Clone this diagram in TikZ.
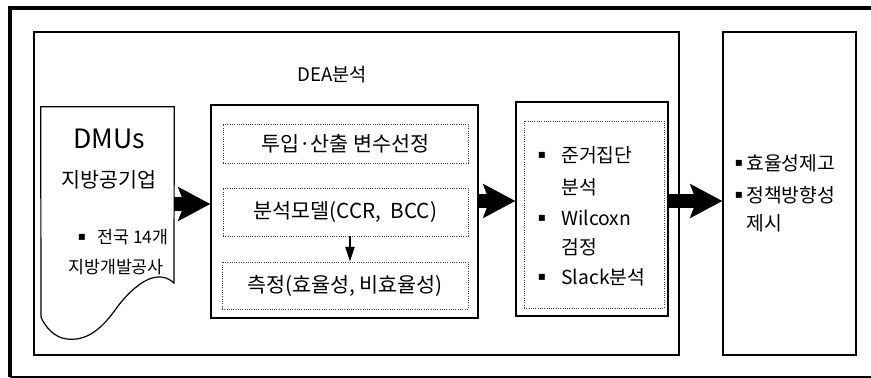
\documentclass[tikz,border=0pt]{standalone}
\usepackage{fontspec}
\setmainfont{Noto Sans CJK KR}
\newfontfamily\symfont{DejaVu Sans}
\usetikzlibrary{arrows.meta,fit}
\begin{document}
\begin{tikzpicture}[x=0.75pt,y=-0.75pt,
  box/.style={draw=black, line width=0.9pt, inner sep=0pt, fill=white},
  dotbox/.style={draw=black!75, densely dotted, line width=0.7pt, inner sep=0pt},
  fat/.style={line width=11pt, -{Stealth[length=24pt, width=25pt, inset=4.5pt]}},
  lbl/.style={inner sep=0pt},
  big/.style={lbl, font=\fontsize{20pt}{24pt}\selectfont},
  mid/.style={lbl, font=\fontsize{15.5pt}{18pt}\selectfont},
  med/.style={lbl, font=\fontsize{14.5pt}{17pt}\selectfont},
  sml/.style={lbl, font=\fontsize{13pt}{15pt}\selectfont},
  bul/.style={lbl, font=\symfont\fontsize{9pt}{10pt}\selectfont},
]
\useasboundingbox (0,0) rectangle (871,378);
% outer frame
\draw[line width=3pt] (10,377) -- (10,8) -- (880,8);
\draw[line width=1.1pt] (10,377) -- (880,377);
% main boxes
\node[box, fit={(34,32) (679,355)}] (dea) {};
\node[box, fit={(723,32) (856,355)}] (out) {};
\node[lbl, font=\fontsize{14pt}{17pt}\selectfont] (deat) at (332,75) {DEA분석};
% document shape
\node[lbl, fit={(41,107) (174,301)}] (doc) {};
\draw[line width=0.9pt, fill=white] (doc.north west) -- (doc.north east) -- (174,283)
  .. controls (160,270) and (140,278) .. (118,306)
  .. controls (100,332) and (85,341) .. (67,339)
  .. controls (55,338) and (45,327) .. (41,317) -- cycle;
\node[big] (dmu) at (109,139) {DMUs};
\node[mid] (lpe) at (109,180) {지방공기업};
\node[bul] (db) at (82,237) {▪};
\node[sml, anchor=west] (d1) at (97,237) {전국 14개};
\node[sml] (d2) at (116,267) {지방개발공사};
% DEA middle box
\node[box, fit={(211,105) (478,318)}] (midbox) {};
\node[dotbox, fit={(223,124) (468,163)}, label={[mid]center:투입·산출 변수선정}] (m1) {};
\node[dotbox, fit={(223,188) (468,236)}, label={[mid]center:분석모델(CCR,\ \ BCC)}] (m2) {};
\node[dotbox, fit={(222,262) (468,309)}, label={[mid]center:측정(효율성,\ 비효율성)}] (m3) {};
\coordinate (sx) at (350,0);
\draw[line width=0.8pt, -{Triangle[length=11pt, width=7pt]}] (m2.south -| sx) -- (m3.north -| sx);
% result box
\node[box, fit={(516,102) (668,316)}] (res) {};
\node[dotbox, fit={(524,121) (664,308)}] (resin) {};
\node[bul] (rb1) at (542,155) {▪};
\node[med, anchor=west] (r1) at (561,155) {준거집단};
\node[med, anchor=west] (r2) at (561,187) {분석};
\node[bul] (rb2) at (542,218) {▪};
\node[med, anchor=west] (r3) at (561,218) {Wilcoxn};
\node[med, anchor=west] (r4) at (561,247) {검정};
\node[bul] (rb3) at (542,277) {▪};
\node[med, anchor=west] (r5) at (561,277) {Slack분석};
% output box
\node[bul] (ob1) at (739,163) {▪};
\node[med, anchor=west] (o1) at (746,163) {효율성제고};
\node[bul] (ob2) at (739,195) {▪};
\node[med, anchor=west] (o2) at (746,195) {정책방향성};
\node[med, anchor=west] (o3) at (746,223) {제시};
% fat arrows
\coordinate (ay) at (0,201);
\draw[fat] (doc.east) -- (midbox.west |- doc.east);
\draw[fat] (midbox.east |- ay) -- (res.west |- ay);
\draw[fat] (res.east |- ay) -- (out.west |- ay);
\end{tikzpicture}
\end{document}
